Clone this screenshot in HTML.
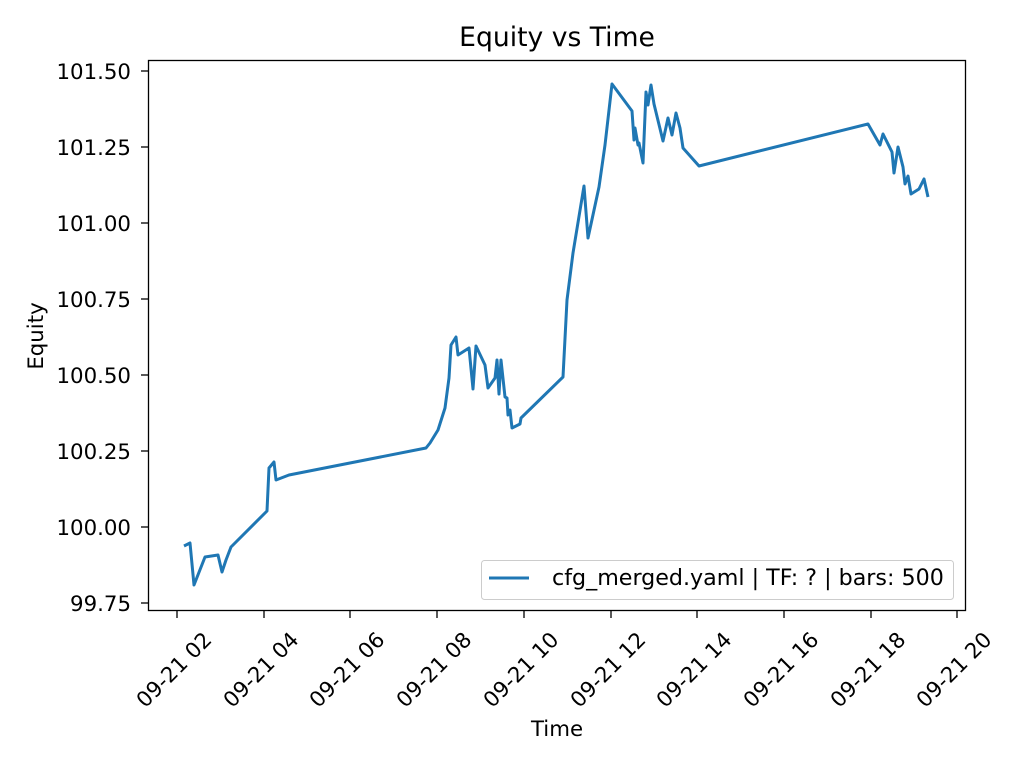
<!DOCTYPE html>
<html><head><meta charset="utf-8"><style>body{margin:0;background:#fff}svg{display:block}text{font-family:"DejaVu Sans","Liberation Sans",sans-serif;fill:#000}</style></head><body>
<svg width="1024" height="768" viewBox="0 0 1024 768">
<rect width="1024" height="768" fill="#fff"/>
<text x="557" y="46" font-size="26.6" text-anchor="middle">Equity vs Time</text>
<polyline fill="none" stroke="#1f77b4" stroke-width="3" stroke-linejoin="round" points="184,546 190,543 194,585 205,557 218,555 222,572 226,560 231,547 267,511 269,468 274,462 276,480 289,475 426,448 430,443 438,430 445,408 449,378 451,345 456,337 458,355 469,348 473,389 476,346 485,365 488,388 495,378 497,360 499,394 501,360 505,397 507,398 508,415 510,410 512,428 520,424 521,418 563,377 567,300 573,253 584,186 588,238 599,187 605,145 612,84 632,111 634,140 635,128 638,145 639,143 643,163 646,92 648,105 651,85 654,104 663,141 668,118 672,135 676,113 680,128 683,148 699,166 868,124 880,145 883,134 892,152 894,173 898,147 903,167 905,184 908,176 911,194 919,189 924,179 928,197"/>
<rect x="148.5" y="60.5" width="817" height="550" fill="none" stroke="#000" stroke-width="1.3"/>
<g stroke="#000" stroke-width="1.3">
<line x1="141" y1="71" x2="148" y2="71"/><line x1="141" y1="147" x2="148" y2="147"/><line x1="141" y1="223" x2="148" y2="223"/><line x1="141" y1="299" x2="148" y2="299"/><line x1="141" y1="375" x2="148" y2="375"/><line x1="141" y1="451" x2="148" y2="451"/><line x1="141" y1="527" x2="148" y2="527"/><line x1="141" y1="603" x2="148" y2="603"/>
<line x1="177" y1="611" x2="177" y2="618"/><line x1="264" y1="611" x2="264" y2="618"/><line x1="350" y1="611" x2="350" y2="618"/><line x1="437" y1="611" x2="437" y2="618"/><line x1="524" y1="611" x2="524" y2="618"/><line x1="611" y1="611" x2="611" y2="618"/><line x1="697" y1="611" x2="697" y2="618"/><line x1="784" y1="611" x2="784" y2="618"/><line x1="871" y1="611" x2="871" y2="618"/><line x1="957" y1="611" x2="957" y2="618"/>
</g>
<g font-size="21.3" text-anchor="end">
<text x="131" y="79">101.50</text><text x="131" y="155">101.25</text><text x="131" y="231">101.00</text><text x="131" y="307">100.75</text><text x="131" y="383">100.50</text><text x="131" y="459">100.25</text><text x="131" y="535">100.00</text><text x="131" y="611">99.75</text>
</g>
<g font-size="21.3" text-anchor="end">
<text transform="translate(213,641) rotate(-45)">09-21 02</text>
<text transform="translate(300,641) rotate(-45)">09-21 04</text>
<text transform="translate(386,641) rotate(-45)">09-21 06</text>
<text transform="translate(473,641) rotate(-45)">09-21 08</text>
<text transform="translate(560,641) rotate(-45)">09-21 10</text>
<text transform="translate(647,641) rotate(-45)">09-21 12</text>
<text transform="translate(733,641) rotate(-45)">09-21 14</text>
<text transform="translate(820,641) rotate(-45)">09-21 16</text>
<text transform="translate(907,641) rotate(-45)">09-21 18</text>
<text transform="translate(993,641) rotate(-45)">09-21 20</text>
</g>
<text x="557" y="736" font-size="21.3" text-anchor="middle">Time</text>
<text transform="translate(43,336) rotate(-90)" font-size="21.3" text-anchor="middle">Equity</text>
<rect x="481.5" y="560.5" width="472" height="39" rx="3" fill="#fff" stroke="#ccc"/>
<line x1="489" y1="578" x2="529" y2="578" stroke="#1f77b4" stroke-width="3"/>
<text x="552" y="585" font-size="22.2">cfg_merged.yaml | TF: ? | bars: 500</text>
</svg>
</body></html>
